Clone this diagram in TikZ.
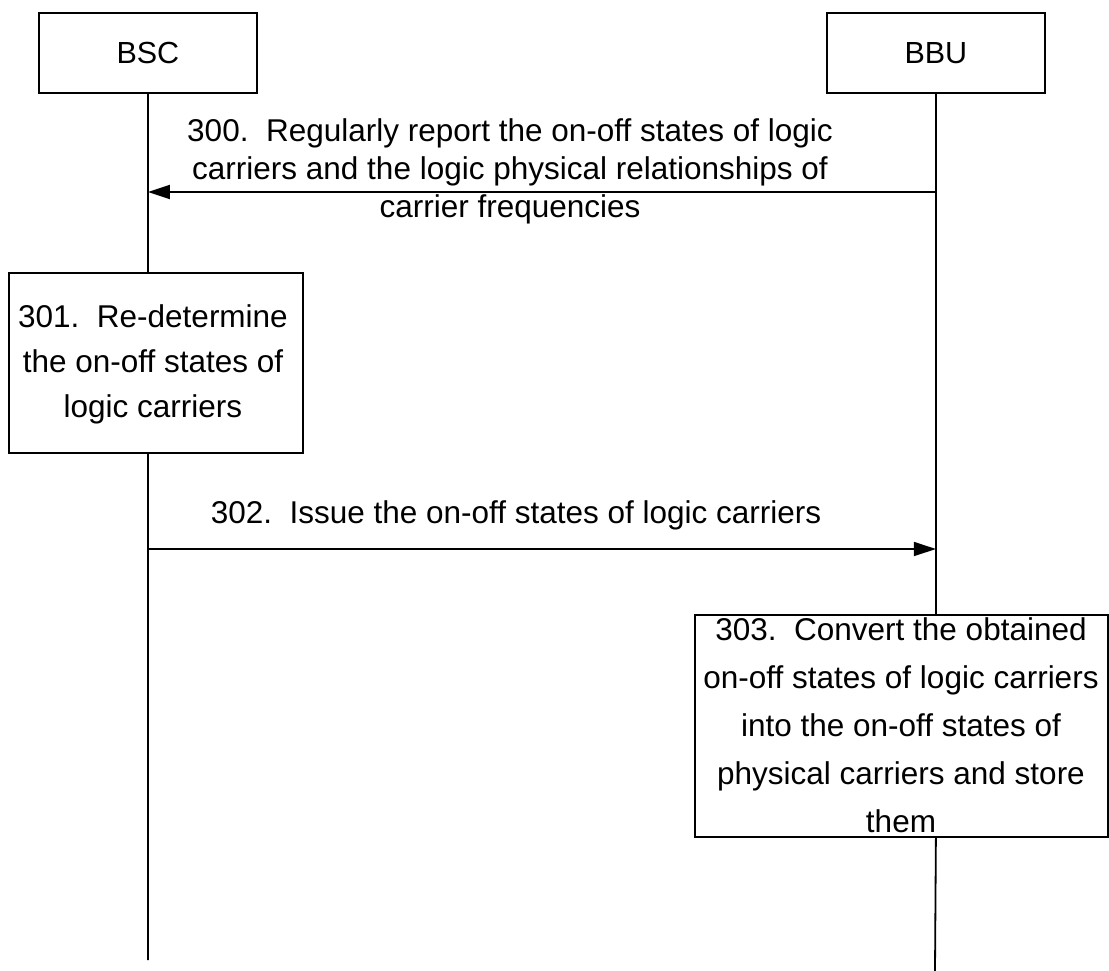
\documentclass[tikz,border=0pt]{standalone}
\usepackage{fontspec}
\setmainfont{Liberation Sans}
\usetikzlibrary{arrows.meta}
\begin{document}
\begin{tikzpicture}[x=1pt,y=-1pt,line width=1.8pt,
  box/.style={draw,rectangle,inner sep=0pt,anchor=north west},
  lbl/.style={font=\fontsize{30.5}{37}\selectfont},
  txt/.style={font=\fontsize{31.5}{45}\selectfont,align=center,inner sep=0pt},
  txtb/.style={font=\fontsize{31.5}{48}\selectfont,align=center,inner sep=0pt},
  msgtxt/.style={font=\fontsize{31.5}{38}\selectfont,align=center,inner sep=0pt},
  msg/.style={-{Triangle[length=22pt,width=14pt]}}]
\useasboundingbox (0,0) rectangle (1109,971);
% participants
\node[box,lbl,minimum width=218pt,minimum height=80pt] (bsc) at (38,12) {BSC};
\node[box,lbl,minimum width=218pt,minimum height=80pt] (bbu) at (826,12) {BBU};
% step boxes
\node[box,minimum width=294pt,minimum height=180pt] (s301) at (8,272) {};
\node[txt,anchor=north] (t301) at (153,304) {301.\ \ Re-determine\\the on-off states of\\logic carriers};
\node[box,minimum width=413pt,minimum height=222pt] (s303) at (694,614) {};
\node[txtb,anchor=north] (t303) at (901,617) {303.\ \ Convert the obtained\\on-off states of logic carriers\\into the on-off states of\\physical carriers and store\\them};
% lifelines
\coordinate (bscend) at (148,960);
\coordinate (bbuend) at (935,971);
\draw (bsc.south) -- (bsc.south |- s301.north);
\draw (bsc.south |- s301.south) -- (bscend);
\draw (bbu.south) -- (bbu.south |- s303.north);
\draw (bbu.south |- s303.south) -- (bbuend);
% messages
\coordinate (m300) at (0,192);
\coordinate (m302) at (0,549);
\draw[msg] (bbu.south |- m300) -- (bsc.south |- m300);
\draw[msg] (bsc.south |- m302) -- (bbu.south |- m302);
\node[msgtxt,anchor=north] (t300) at (510,118) {300.\ \ Regularly report the on-off states of logic\\carriers and the logic physical relationships of\\carrier frequencies};
\node[msgtxt,anchor=base] (t302) at (516,523) {302.\ \ Issue the on-off states of logic carriers};
\end{tikzpicture}
\end{document}
